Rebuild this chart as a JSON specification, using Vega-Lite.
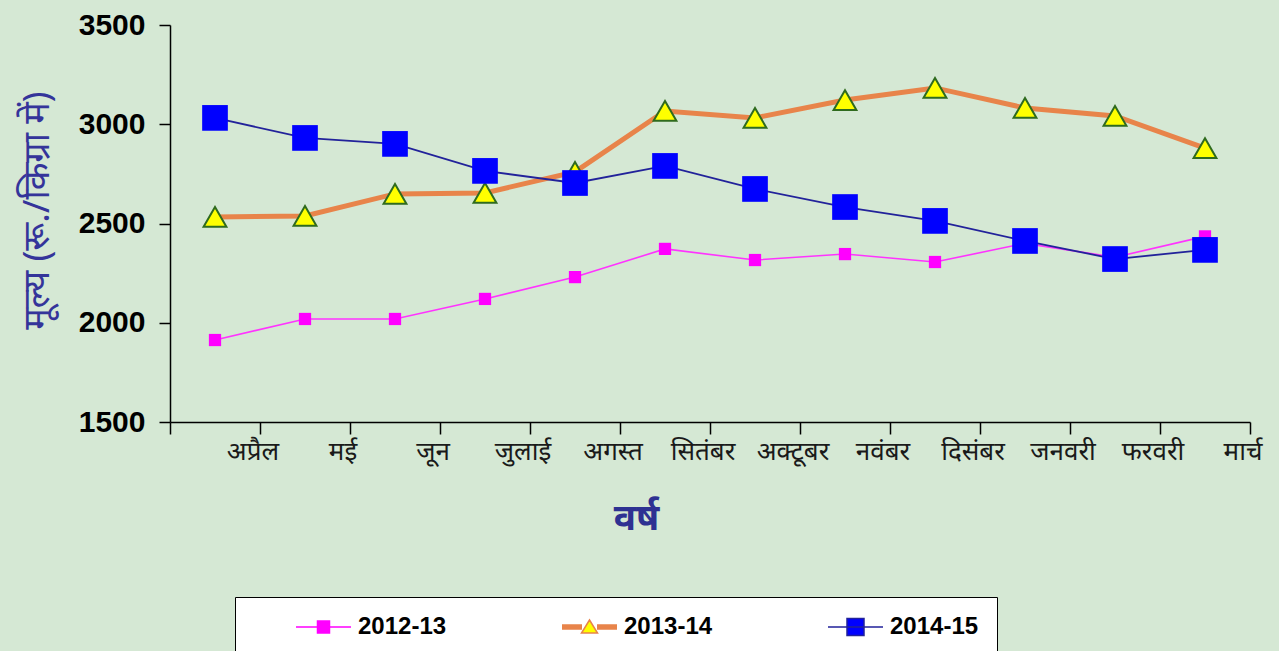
{
  "$schema": "https://vega.github.io/schema/vega-lite/v6.json",
  "width": 1080,
  "height": 397,
  "autosize": "none",
  "padding": {"left": 170, "top": 25, "right": 29, "bottom": 229},
  "background": "#d5e8d4",
  "config": {"view": {"stroke": null}, "font": "Liberation Sans"},
  "data": {
    "values": [
      {"month": "अप्रैल", "series": "2012-13", "price": 1913},
      {"month": "मई", "series": "2012-13", "price": 2019},
      {"month": "जून", "series": "2012-13", "price": 2019},
      {"month": "जुलाई", "series": "2012-13", "price": 2120},
      {"month": "अगस्त", "series": "2012-13", "price": 2230},
      {"month": "सितंबर", "series": "2012-13", "price": 2372},
      {"month": "अक्टूबर", "series": "2012-13", "price": 2316},
      {"month": "नवंबर", "series": "2012-13", "price": 2346},
      {"month": "दिसंबर", "series": "2012-13", "price": 2306},
      {"month": "जनवरी", "series": "2012-13", "price": 2400},
      {"month": "फरवरी", "series": "2012-13", "price": 2330},
      {"month": "मार्च", "series": "2012-13", "price": 2435},
      {"month": "अप्रैल", "series": "2013-14", "price": 2533},
      {"month": "मई", "series": "2013-14", "price": 2538},
      {"month": "जून", "series": "2013-14", "price": 2649},
      {"month": "जुलाई", "series": "2013-14", "price": 2654},
      {"month": "अगस्त", "series": "2013-14", "price": 2760},
      {"month": "सितंबर", "series": "2013-14", "price": 3067},
      {"month": "अक्टूबर", "series": "2013-14", "price": 3032},
      {"month": "नवंबर", "series": "2013-14", "price": 3122},
      {"month": "दिसंबर", "series": "2013-14", "price": 3183},
      {"month": "जनवरी", "series": "2013-14", "price": 3082},
      {"month": "फरवरी", "series": "2013-14", "price": 3042},
      {"month": "मार्च", "series": "2013-14", "price": 2880},
      {"month": "अप्रैल", "series": "2014-15", "price": 3032},
      {"month": "मई", "series": "2014-15", "price": 2931},
      {"month": "जून", "series": "2014-15", "price": 2901},
      {"month": "जुलाई", "series": "2014-15", "price": 2765},
      {"month": "अगस्त", "series": "2014-15", "price": 2704},
      {"month": "सितंबर", "series": "2014-15", "price": 2790},
      {"month": "अक्टूबर", "series": "2014-15", "price": 2674},
      {"month": "नवंबर", "series": "2014-15", "price": 2583},
      {"month": "दिसंबर", "series": "2014-15", "price": 2513},
      {"month": "जनवरी", "series": "2014-15", "price": 2412},
      {"month": "फरवरी", "series": "2014-15", "price": 2321},
      {"month": "मार्च", "series": "2014-15", "price": 2367}
    ]
  },
  "encoding": {
    "x": {
      "field": "month",
      "type": "ordinal",
      "sort": null,
      "scale": {
        "type": "band",
        "domain": ["अप्रैल", "मई", "जून", "जुलाई", "अगस्त", "सितंबर", "अक्टूबर", "नवंबर", "दिसंबर", "जनवरी", "फरवरी", "मार्च"],
        "paddingInner": 0,
        "paddingOuter": 0
      },
      "axis": {
        "bandPosition": 1,
        "tickExtra": true,
        "labelAngle": 0,
        "labelOffset": 38,
        "tickSize": 12,
        "tickColor": "#000000",
        "tickWidth": 1.5,
        "domainColor": "#000000",
        "domainWidth": 1.5,
        "grid": false,
        "labelFont": "Noto Sans",
        "labelFontSize": 26,
        "labelColor": "#1a1a1a",
        "labelPadding": 4,
        "labelBaseline": "top",
        "title": "वर्ष",
        "titleFont": "Noto Sans",
        "titleFontSize": 37,
        "titleFontWeight": "bold",
        "titleColor": "#2e3192",
        "titleX": 466,
        "titleY": 96,
        "titleBaseline": "middle",
        "titleAlign": "center"
      }
    },
    "y": {
      "field": "price",
      "type": "quantitative",
      "scale": {"domain": [1500, 3500], "nice": false, "zero": false},
      "axis": {
        "values": [1500, 2000, 2500, 3000, 3500],
        "format": "d",
        "grid": false,
        "tickSize": 11,
        "tickColor": "#000000",
        "tickWidth": 1.5,
        "domainColor": "#000000",
        "domainWidth": 1.5,
        "labelFont": "Liberation Sans",
        "labelFontSize": 30,
        "labelFontWeight": "bold",
        "labelColor": "#000000",
        "labelPadding": 14,
        "title": "मूल्य (रू./किग्रा में)",
        "titleFont": "Noto Sans",
        "titleFontSize": 36,
        "titleFontWeight": "normal",
        "titleColor": "#34349a",
        "titleX": -133,
        "titleY": 185,
        "titleAngle": -90,
        "titleAlign": "center",
        "titleBaseline": "middle"
      }
    }
  },
  "layer": [
    {
      "transform": [{"filter": "datum.series === '2012-13'"}],
      "layer": [
        {"mark": {"type": "line", "color": "#ff33ff", "strokeWidth": 1.6}},
        {"mark": {"type": "point", "shape": "square", "filled": true, "color": "#ff00ff", "opacity": 1, "size": 150}}
      ]
    },
    {
      "transform": [{"filter": "datum.series === '2013-14'"}],
      "layer": [
        {"mark": {"type": "line", "color": "#e8844a", "strokeWidth": 5}},
        {"mark": {"type": "point", "shape": "triangle-up", "filled": true, "fill": "#ffff00", "stroke": "#2f6b1e", "strokeWidth": 2, "opacity": 1, "size": 520}}
      ]
    },
    {
      "transform": [{"filter": "datum.series === '2014-15'"}],
      "layer": [
        {"mark": {"type": "line", "color": "#22229a", "strokeWidth": 1.8}},
        {"mark": {"type": "point", "shape": "square", "filled": true, "color": "#0000ff", "opacity": 1, "size": 660}}
      ]
    },
    {
      "transform": [{"filter": "false"}],
      "mark": {"type": "point", "filled": true, "opacity": 1, "strokeWidth": 1.5},
      "encoding": {
        "fill": {
          "field": "series",
          "type": "nominal",
          "scale": {"domain": ["2012-13", "2013-14", "2014-15"], "range": ["#ff00ff", "#ffff00", "#0000ff"]},
          "legend": {
            "title": null,
            "orient": "none",
            "legendX": 65,
            "legendY": 572,
            "direction": "horizontal",
            "fillColor": "#ffffff",
            "strokeColor": "#000000",
            "padding": 18,
            "symbolSize": 400,
            "symbolStrokeWidth": 1.5,
            "labelOffset": 81,
            "labelFontSize": 24,
            "labelFontWeight": "bold",
            "labelColor": "#000000",
            "columnPadding": 72
          }
        },
        "stroke": {
          "field": "series",
          "type": "nominal",
          "scale": {"domain": ["2012-13", "2013-14", "2014-15"], "range": ["#ff00ff", "#e8844a", "#22229a"]},
          "legend": {
            "title": null,
            "orient": "none",
            "legendX": 65,
            "legendY": 572,
            "direction": "horizontal",
            "fillColor": "#ffffff",
            "strokeColor": "#000000",
            "padding": 18,
            "symbolSize": 400,
            "symbolStrokeWidth": 1.5,
            "labelOffset": 81,
            "labelFontSize": 24,
            "labelFontWeight": "bold",
            "labelColor": "#000000",
            "columnPadding": 72
          }
        },
        "shape": {
          "field": "series",
          "type": "nominal",
          "scale": {
            "domain": ["2012-13", "2013-14", "2014-15"],
            "range": [
              "M3.1,0H8.6M5.25,-0.6H6.45V0.6H5.25Z",
              "M3.1,-0.2H5.1M3.1,-0.1H5.1M3.1,0H5.1M3.1,0.1H5.1M3.1,0.2H5.1M6.6,-0.2H8.6M6.6,-0.1H8.6M6.6,0H8.6M6.6,0.1H8.6M6.6,0.2H8.6M5.85,-0.7L6.65,0.6H5.05Z",
              "M3.1,0H8.6M5.0,-0.85H6.7V0.85H5.0Z"
            ]
          },
          "legend": {
            "title": null,
            "orient": "none",
            "legendX": 65,
            "legendY": 572,
            "direction": "horizontal",
            "fillColor": "#ffffff",
            "strokeColor": "#000000",
            "padding": 18,
            "symbolSize": 400,
            "symbolStrokeWidth": 1.5,
            "labelOffset": 81,
            "labelFontSize": 24,
            "labelFontWeight": "bold",
            "labelColor": "#000000",
            "columnPadding": 72
          }
        }
      }
    }
  ]
}
